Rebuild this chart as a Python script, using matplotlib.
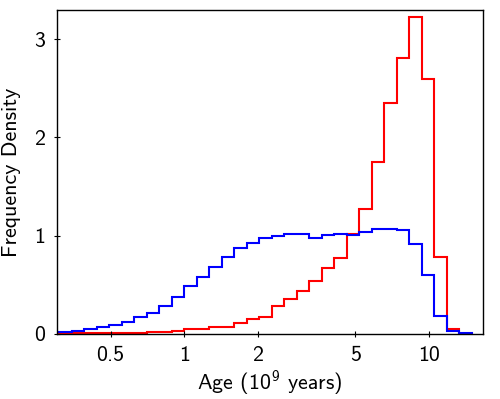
import numpy as np
import matplotlib
matplotlib.use("Agg")
import matplotlib.pyplot as plt
from matplotlib.ticker import FixedLocator, FixedFormatter, NullLocator

plt.rcParams['font.family'] = ['cmss10', 'DejaVu Sans']
plt.rcParams['mathtext.fontset'] = 'custom'
plt.rcParams['mathtext.rm'] = 'cmss10'
plt.rcParams['mathtext.it'] = 'cmss10'
plt.rcParams['mathtext.bf'] = 'cmss10'
plt.rcParams['axes.unicode_minus'] = False

# Histogram bins in log10(age): width ~0.0511 dex, bin index k = -11 ... 22
bin_width_dex = 0.0511
bin_index = np.arange(-11, 24)
bin_edges = 10 ** (bin_index * bin_width_dex)   # ages in 10^9 years

# Frequency density (per dex) in each bin
blue_density = [0.02, 0.02, 0.03, 0.046, 0.066, 0.095, 0.125, 0.176, 0.217, 0.288, 0.38,
                0.49, 0.583, 0.684, 0.786, 0.878, 0.929, 0.98, 0.993, 1.017, 1.017,
                0.98, 1.007, 1.02, 1.003, 1.034, 1.071, 1.071, 1.058, 0.912, 0.60,
                0.186, 0.027, 0.013]
red_density = [0.0, 0.0, 0.007, 0.008, 0.01, 0.01, 0.012, 0.013, 0.024, 0.024, 0.034,
               0.047, 0.047, 0.074, 0.074, 0.113, 0.152, 0.176, 0.287, 0.357, 0.432,
               0.54, 0.672, 0.776, 1.02, 1.267, 1.753, 2.352, 2.81, 3.227, 2.596,
               0.786, 0.054, 0.0]

xticks = [0.5, 1, 2, 5, 10]
xtick_labels = ['0.5', '1', '2', '5', '10']
yticks = [0, 1, 2, 3]

fs = 15.8
fig = plt.figure(figsize=(5.0, 3.99), dpi=100)
ax = fig.add_axes([0.114, 0.163, 0.852, 0.812])

ax.stairs(red_density, bin_edges, color='#ff0000', linewidth=1.5, baseline=0)
ax.stairs(blue_density, bin_edges, color='#0000ff', linewidth=1.5, baseline=0)

ax.set_xscale('log')
ax.set_xlim(0.302, 16.63)
ax.set_ylim(0, 3.296)

ax.xaxis.set_major_locator(FixedLocator(xticks))
ax.xaxis.set_major_formatter(FixedFormatter(xtick_labels))
ax.xaxis.set_minor_locator(NullLocator())
ax.yaxis.set_major_locator(FixedLocator(yticks))
ax.yaxis.set_minor_locator(NullLocator())

ax.tick_params(axis='both', which='major', direction='inout', length=4, width=0.8,
               labelsize=fs, top=False, right=False)
ax.tick_params(axis='x', pad=6.5)
ax.tick_params(axis='y', pad=6.5)
for s in ax.spines.values():
    s.set_linewidth(1.0)

ax.set_xlabel('Age (10$^{9}$ years)', fontsize=fs)
ax.set_ylabel('Frequency Density', fontsize=fs)
ax.yaxis.set_label_coords(-0.0845, 0.5)
ax.xaxis.set_label_coords(0.5, -0.106)

fig.savefig('out.png', dpi=100)
